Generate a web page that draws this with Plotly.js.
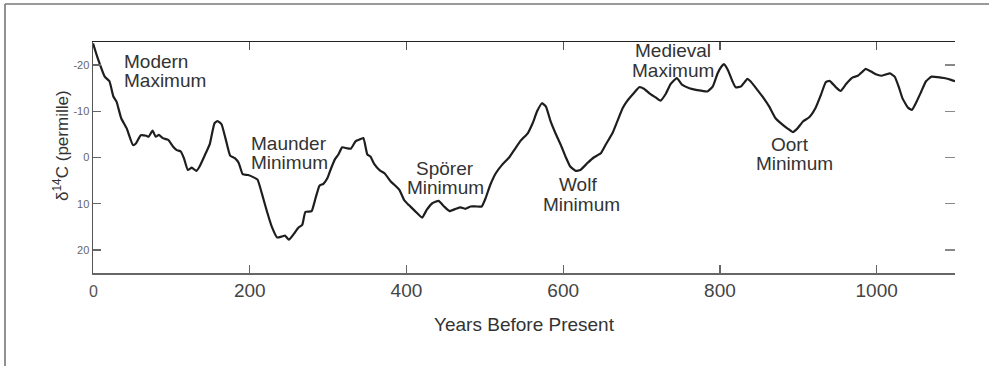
<!DOCTYPE html>
<html>
<head>
<meta charset="utf-8">
<script src="https://cdn.plot.ly/plotly-3.0.1.min.js"></script>
<style>html,body{margin:0;padding:0;background:#fff;}#chart{width:989px;height:366px;}</style>
</head>
<body>
<div id="chart"></div>
<script>
// Years before present
const years = [0,6,15,21,26,30,36,43,51,55,61,68,71,76,80,84,89,96,102,107,112,116,121,126,132,136,143,149,155,159,164,169,175,181,186,191,198,205,210,216,222,228,235,241,245,250,256,262,267,271,279,284,289,294,299,303,309,313,318,324,329,335,339,345,350,354,359,366,372,380,387,391,397,403,411,420,426,433,441,448,455,463,469,475,482,488,496,501,507,514,522,531,539,546,555,561,567,573,578,584,590,597,603,609,616,622,631,639,648,654,663,669,676,682,690,697,703,710,718,724,731,737,745,752,761,771,784,791,797,802,805,810,816,820,827,835,839,848,856,863,871,878,886,893,899,906,914,922,929,935,940,948,954,961,969,976,982,986,993,999,1006,1012,1017,1023,1028,1033,1040,1045,1050,1057,1063,1070,1078,1086,1095,1100];
// delta 14C (permille)
const d14c = [-24.7,-21.5,-17.5,-16.5,-13.2,-12.1,-8.5,-6.3,-2.7,-3.1,-4.8,-4.7,-4.5,-5.8,-4.5,-4.9,-4.2,-3.8,-2.4,-1.6,-1.3,0.15,2.7,2.2,2.9,1.95,-0.6,-2.9,-7.4,-7.9,-7.2,-4.2,-0.4,0.15,1.2,3.6,3.8,4.3,4.8,8.1,11.7,14.9,17.3,17.1,16.9,17.8,16.6,15.2,14.6,11.8,11.6,8.8,6.1,5.7,4.5,2.7,0.3,-0.6,-2.2,-2.0,-1.9,-3.5,-3.8,-4.2,-0.7,-0.2,1.45,2.8,3.4,5.2,6.3,7.0,9.2,10.3,11.6,13.0,11.3,9.9,9.4,10.6,11.6,11.1,10.8,11.1,10.6,10.6,10.6,8.8,5.9,3.4,1.6,0,-2.0,-3.7,-5.3,-7.4,-10.1,-11.75,-11.0,-7.8,-5.3,-2.7,-0.2,1.95,2.9,2.7,1.2,0,-0.9,-2.7,-5.3,-7.8,-10.7,-12.3,-13.9,-15.2,-14.9,-13.9,-13.0,-12.3,-13.8,-15.9,-17.2,-15.7,-15.0,-14.6,-14.3,-15.4,-18.2,-19.7,-20.2,-19.0,-16.5,-15.2,-15.4,-17.0,-16.5,-14.6,-12.8,-11.0,-8.5,-7.4,-6.3,-5.5,-6.3,-7.8,-8.7,-10.7,-13.6,-16.3,-16.6,-15.2,-14.4,-15.9,-17.3,-17.7,-18.6,-19.2,-18.6,-18.0,-17.7,-18.0,-18.2,-17.5,-15.4,-12.8,-10.8,-10.3,-11.75,-14.3,-16.5,-17.5,-17.4,-17.2,-16.8,-16.5];

const xTickVals = [200,400,600,800,1000];
const xTickText = ["200","400","600","800","1000"];
const yTickVals = [-20,-10,0,10,20];
const yTickText = ["-20","-10","0","10","20"];

// Labelled periods: text lines and anchor positions (years, permille)
const labelText = ["Modern","Maximum","Maunder","Minimum","Spörer","Minimum","Wolf","Minimum","Medieval","Maximum","Oort","Minimum"];
const labelX = [37,37,250.4,250.2,449.7,450.1,618.8,623.5,740.4,740.4,889.2,895.2];
const labelY = [-20.8,-16.6,-3.1,1.0,2.3,6.5,5.9,10.2,-23.1,-18.9,-2.9,1.4];
const labelAlign = ["left","left","center","center","center","center","center","center","center","center","center","center"];

const FONT = "Liberation Sans, Arial, Helvetica, sans-serif";

const traces = [
  {x: years, y: d14c, type: "scatter", mode: "lines",
   line: {color: "#1e1e1e", width: 2.2, shape: "spline", smoothing: 0.4},
   hoverinfo: "x+y", showlegend: false},
  {x: [], y: [], xaxis: "x2", yaxis: "y2", type: "scatter", mode: "lines", showlegend: false, hoverinfo: "skip"}
];

const annotations = labelText.map((t, i) => ({
  text: t, x: labelX[i], y: labelY[i], xref: "x", yref: "y",
  xanchor: labelAlign[i], yanchor: "middle", showarrow: false,
  font: {family: FONT, size: 19, color: "#333"}
}));
annotations.push({
  text: "δ<sup>14</sup>C (permille)", textangle: -90,
  xref: "paper", yref: "paper", x: -0.0371, y: 0.55,
  xanchor: "center", yanchor: "middle", showarrow: false,
  font: {family: FONT, size: 17, color: "#333"}
});
annotations.push({
  text: "0", xref: "x", yref: "paper", x: 0, y: -0.078,
  xanchor: "center", yanchor: "middle", showarrow: false,
  font: {family: FONT, size: 16, color: "#555"}
});

const layout = {
  width: 989, height: 366,
  margin: {l: 93, r: 34, t: 42, b: 93, pad: 0},
  paper_bgcolor: "#fff", plot_bgcolor: "#fff",
  font: {family: FONT, color: "#333"},
  showlegend: false,
  xaxis: {
    range: [0, 1100], tickmode: "array", tickvals: xTickVals, ticktext: xTickText,
    ticks: "inside", ticklen: 8, tickwidth: 1.3, tickcolor: "#666",
    showline: true, linecolor: "#666", linewidth: 1.5,
    showgrid: false, zeroline: false,
    tickfont: {family: FONT, size: 19, color: "#444"},
    title: {text: "Years Before Present", font: {family: FONT, size: 19, color: "#333"}, standoff: 17}
  },
  xaxis2: {
    range: [0, 1100], overlaying: "x", side: "top", anchor: "y",
    tickmode: "array", tickvals: xTickVals, ticks: "inside", ticklen: 8, tickwidth: 1.3, tickcolor: "#555",
    showticklabels: false, showline: true, linecolor: "#222", linewidth: 1.5,
    showgrid: false, zeroline: false
  },
  yaxis: {
    range: [25, -25], tickmode: "array", tickvals: yTickVals, ticktext: yTickText,
    ticks: "inside", ticklen: 8, tickwidth: 1.3, tickcolor: "#666",
    showline: true, linecolor: "#555", linewidth: 1.5,
    showgrid: false, zeroline: false,
    tickfont: {family: FONT, size: 11, color: "#666"}
  },
  yaxis2: {
    range: [25, -25], overlaying: "y", side: "right", anchor: "x",
    tickmode: "array", tickvals: yTickVals, ticks: "inside", ticklen: 10, tickwidth: 1.3, tickcolor: "#888",
    showticklabels: false, showline: false, showgrid: false, zeroline: false
  },
  shapes: [
    {type: "line", xref: "paper", yref: "paper", x0: -0.1021, x1: 1.1, y0: 1.1645, y1: 1.1645,
     line: {color: "#777", width: 1.6}},
    {type: "line", xref: "paper", yref: "paper", x0: -0.1021, x1: -0.1021, y0: -0.5, y1: 1.1645,
     line: {color: "#777", width: 1.6}}
  ],
  annotations: annotations
};

Plotly.newPlot("chart", traces, layout, {displayModeBar: false, staticPlot: true});
</script>
</body>
</html>
